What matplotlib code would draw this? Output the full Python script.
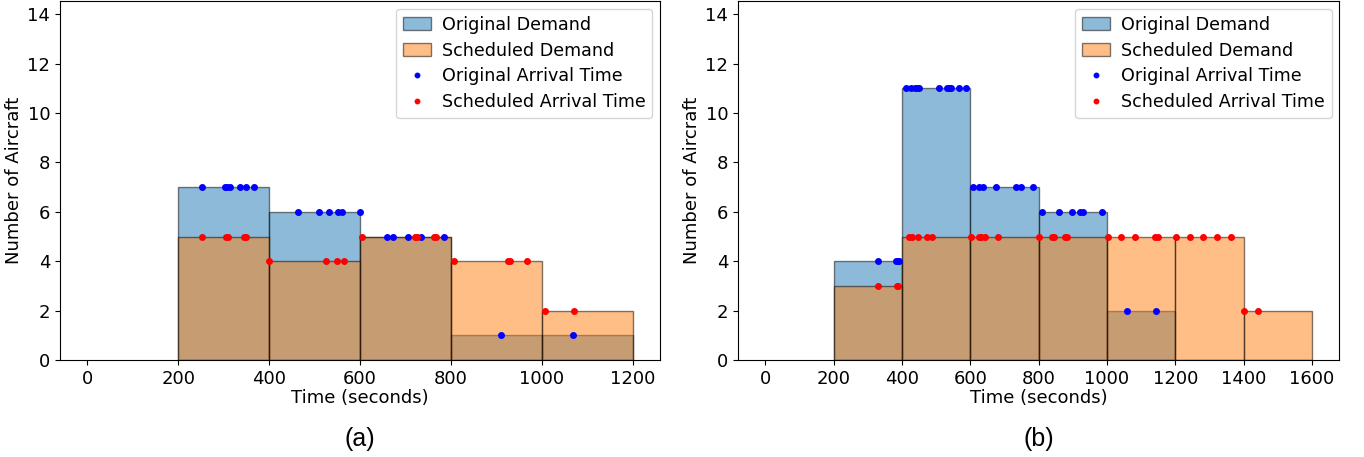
import numpy as np
import matplotlib
matplotlib.use("Agg")
import matplotlib.pyplot as plt

# arrival times (seconds)
orig_a = [253, 303, 308, 314, 336, 349, 366, 464, 510, 532, 551, 561, 599,
          659, 673, 705, 734, 785, 911, 1069]
sched_a = [253, 305, 309, 345, 349, 400, 525, 550, 565, 605, 720, 726, 762,
           768, 806, 925, 929, 967, 1007, 1070]

orig_b = [330, 382, 387, 392, 412, 426, 438, 444, 450, 509, 533, 538, 543,
          567, 588, 608, 626, 636, 675, 735, 749, 782, 810, 860, 898, 921,
          930, 986, 1057, 1144]
sched_b = [330, 384, 389, 421, 428, 448, 474, 489, 601, 625, 630, 643, 682,
           802, 840, 845, 878, 884, 1002, 1042, 1083, 1140, 1148, 1202, 1242,
           1282, 1322, 1363, 1400, 1442]

bins_a = [200, 400, 600, 800, 1000, 1200]
bins_b = [200, 400, 600, 800, 1000, 1200, 1400, 1600]
ticks_a = [0, 200, 400, 600, 800, 1000, 1200]
ticks_b = [0, 200, 400, 600, 800, 1000, 1200, 1400, 1600]

FS = 13


def counts_at(times, edges):
    counts, _ = np.histogram(times, bins=edges)
    idx = np.clip(np.searchsorted(edges, times, side='right') - 1, 0, len(counts) - 1)
    return counts[idx]


def panel(ax, orig, sched, edges, ticks, xlim, tag):
    h1 = ax.hist(orig, bins=edges, color='C0', alpha=0.5, edgecolor='black',
                 label='Original Demand')[2][0]
    h2 = ax.hist(sched, bins=edges, color='C1', alpha=0.5, edgecolor='black',
                 label='Scheduled Demand')[2][0]
    l1, = ax.plot(orig, counts_at(orig, edges), 'o', color='blue', ms=4,
                  label='Original Arrival Time')
    l2, = ax.plot(sched, counts_at(sched, edges), 'o', color='red', ms=4,
                  label='Scheduled Arrival Time')
    ax.set_xlim(*xlim)
    ax.set_ylim(0, 14.55)
    ax.set_xticks(ticks)
    ax.set_yticks(range(0, 15, 2))
    ax.tick_params(labelsize=FS)
    ax.set_xlabel('Time (seconds)', fontsize=FS, labelpad=1)
    ax.set_ylabel('Number of Aircraft', fontsize=FS, labelpad=3)
    ax.legend(handles=[h1, h2, l1, l2], loc='upper right', fontsize=12.6,
              markerscale=0.8, borderaxespad=0.45, handlelength=1.6,
              handletextpad=0.6, labelspacing=0.45)
    ax.text(0.5, -0.22, tag, transform=ax.transAxes, ha='center', va='center',
            fontsize=18, family='Liberation Sans')


fig = plt.figure(figsize=(13.64, 4.57), dpi=100)
ax1 = fig.add_axes([0.044, 0.2123, 0.440, 0.786])
ax2 = fig.add_axes([0.541, 0.2123, 0.441, 0.786])

panel(ax1, orig_a, sched_a, bins_a, ticks_a, (-60, 1260), '(a)')
panel(ax2, orig_b, sched_b, bins_b, ticks_b, (-80, 1680), '(b)')

fig.savefig('out.png', dpi=100)
